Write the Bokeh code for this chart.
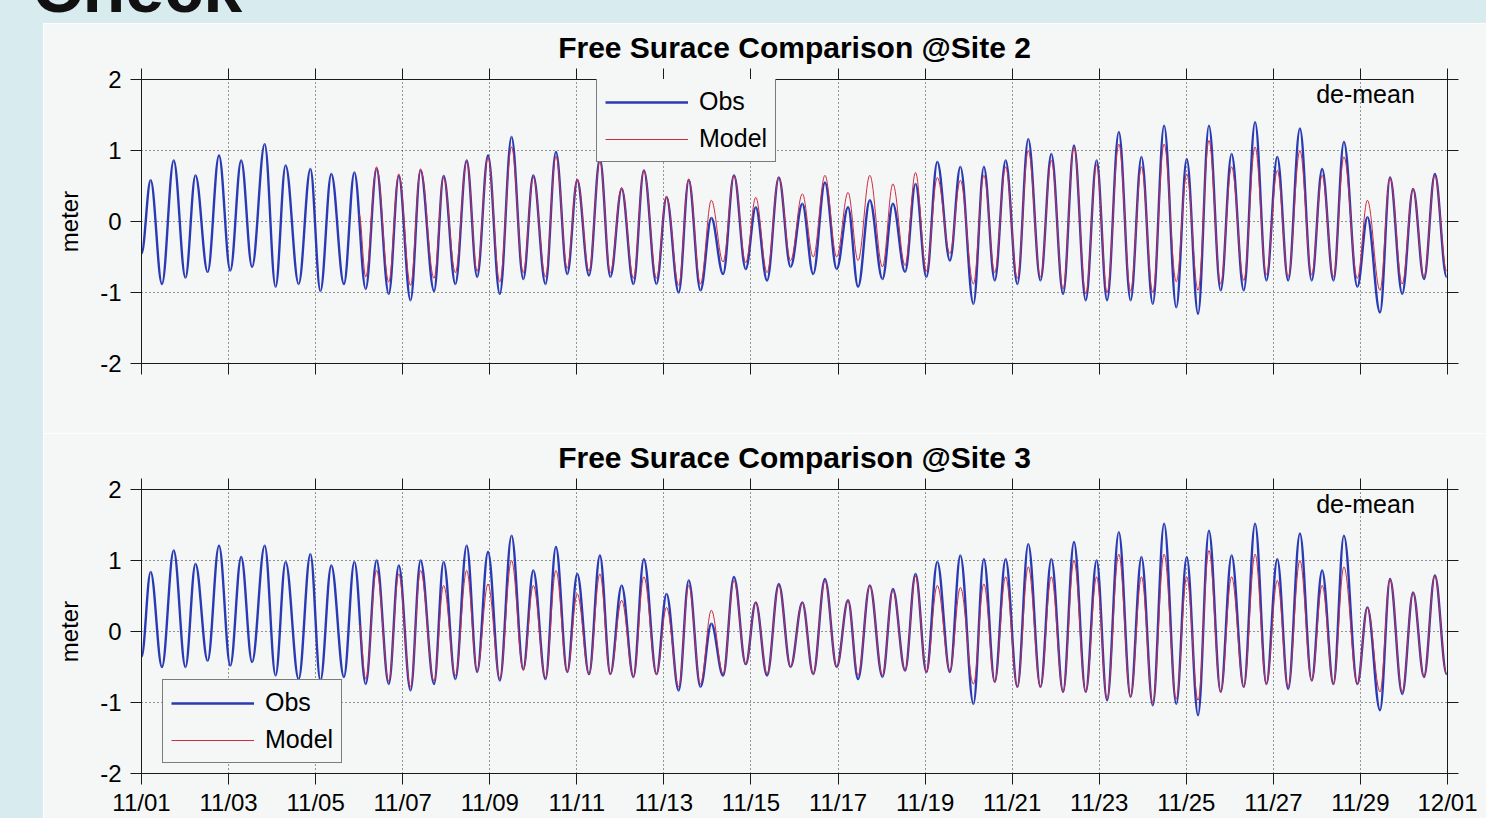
from bokeh.plotting import figure
from bokeh.models import Div, FixedTicker, LinearAxis, Label, Legend, LegendItem, Range1d
from bokeh.layouts import column, row
from bokeh.embed import file_html
from bokeh.resources import INLINE

# ---------------- data ----------------
# times of high / low water, days after 11/01 00:00 (shared by both sites)
t_ext = [0.00, 0.21, 0.47, 0.74, 1.01, 1.24, 1.52, 1.78, 2.04, 2.29,
         2.54, 2.83, 3.08, 3.31, 3.61, 3.88, 4.11, 4.36, 4.65, 4.89,
         5.15, 5.40, 5.68, 5.91, 6.18, 6.41, 6.72, 6.94, 7.21, 7.47,
         7.71, 7.96, 8.23, 8.50, 8.77, 9.00, 9.28, 9.52, 9.78, 10.01,
         10.28, 10.53, 10.77, 11.03, 11.30, 11.54, 11.83, 12.06, 12.34, 12.57,
         12.84, 13.09, 13.36, 13.61, 13.88, 14.11, 14.37, 14.64, 14.91, 15.18,
         15.43, 15.70, 15.97, 16.23, 16.46, 16.73, 17.02, 17.26, 17.54, 17.78,
         18.03, 18.28, 18.57, 18.81, 19.11, 19.35, 19.60, 19.85, 20.12, 20.37,
         20.65, 20.90, 21.17, 21.42, 21.69, 21.94, 22.18, 22.45, 22.72, 22.97,
         23.23, 23.49, 23.77, 24.01, 24.27, 24.52, 24.79, 25.04, 25.32, 25.58,
         25.84, 26.09, 26.34, 26.61, 26.88, 27.12, 27.38, 27.62, 27.93, 28.16,
         28.45, 28.68, 28.96, 29.21, 29.46, 29.71, 29.98]

model_start = 5.0
t_model = [model_start] + [t for t in t_ext if t > model_start]

site2_obs = [-0.45, 0.58, -0.88, 0.86, -0.79, 0.65, -0.71, 0.93, -0.69, 0.86,
             -0.64, 1.09, -0.92, 0.79, -0.88, 0.74, -0.98, 0.67, -0.88, 0.69,
             -0.95, 0.74, -1.02, 0.64, -1.11, 0.72, -0.98, 0.64, -0.88, 0.86,
             -0.78, 0.93, -1.02, 1.19, -0.81, 0.65, -0.88, 0.98, -0.74, 0.58,
             -0.76, 0.88, -0.78, 0.46, -0.88, 0.72, -0.88, 0.34, -1.00, 0.58,
             -0.97, 0.05, -0.74, 0.65, -0.67, 0.20, -0.83, 0.62, -0.64, 0.25,
             -0.74, 0.55, -0.67, 0.20, -0.92, 0.30, -0.81, 0.25, -0.71, 0.53,
             -0.78, 0.84, -0.55, 0.77, -1.16, 0.77, -0.83, 0.86, -0.88, 1.16,
             -0.83, 0.95, -1.02, 1.07, -1.11, 0.86, -1.11, 1.26, -1.11, 0.91,
             -1.16, 1.35, -1.21, 0.88, -1.30, 1.35, -0.97, 0.95, -0.97, 1.40,
             -0.83, 0.91, -0.83, 1.31, -0.83, 0.74, -0.83, 1.12, -0.92, 0.06,
             -1.28, 0.62, -1.02, 0.46, -0.81, 0.67, -0.78]

site2_model = [0.10,
               -0.78, 0.77, -0.85, 0.67, -0.90, 0.74, -0.80, 0.62, -0.72, 0.84,
               -0.70, 0.90, -0.85, 1.05, -0.72, 0.62, -0.78, 0.92, -0.66, 0.60,
               -0.70, 0.85, -0.72, 0.48, -0.80, 0.72, -0.80, 0.36, -0.90, 0.60,
               -0.88, 0.30, -0.57, 0.65, -0.58, 0.34, -0.72, 0.62, -0.55, 0.39,
               -0.50, 0.65, -0.50, 0.41, -0.55, 0.65, -0.64, 0.53, -0.62, 0.69,
               -0.70, 0.62, -0.45, 0.58, -0.88, 0.65, -0.72, 0.77, -0.80, 1.00,
               -0.78, 0.86, -0.95, 1.05, -1.02, 0.80, -1.00, 1.09, -0.98, 0.77,
               -1.00, 1.09, -0.85, 0.67, -0.97, 1.14, -0.88, 0.77, -0.83, 1.05,
               -0.75, 0.72, -0.78, 1.00, -0.75, 0.65, -0.78, 0.91, -0.80, 0.30,
               -0.97, 0.62, -0.88, 0.46, -0.78, 0.65, -0.70]

site3_obs = [-0.36, 0.84, -0.50, 1.14, -0.50, 0.95, -0.41, 1.21, -0.48, 1.05,
             -0.43, 1.21, -0.62, 0.98, -0.67, 1.09, -0.69, 0.93, -0.64, 0.98,
             -0.74, 1.00, -0.74, 0.93, -0.83, 1.00, -0.74, 0.98, -0.67, 1.21,
             -0.57, 1.12, -0.69, 1.35, -0.53, 0.86, -0.67, 1.19, -0.57, 0.81,
             -0.60, 1.07, -0.60, 0.65, -0.64, 1.02, -0.60, 0.53, -0.83, 0.72,
             -0.78, 0.11, -0.62, 0.77, -0.46, 0.41, -0.62, 0.67, -0.50, 0.41,
             -0.60, 0.74, -0.50, 0.44, -0.67, 0.65, -0.64, 0.60, -0.55, 0.81,
             -0.57, 0.98, -0.57, 1.07, -1.02, 1.02, -0.71, 1.02, -0.78, 1.23,
             -0.78, 1.02, -0.85, 1.26, -0.85, 1.00, -0.97, 1.40, -0.92, 1.05,
             -1.04, 1.52, -1.02, 1.05, -1.18, 1.42, -0.85, 1.07, -0.78, 1.52,
             -0.74, 1.02, -0.81, 1.38, -0.69, 0.86, -0.74, 1.35, -0.74, 0.34,
             -1.11, 0.74, -0.88, 0.55, -0.64, 0.79, -0.60]

site3_model = [0.10,
               -0.67, 0.86, -0.70, 0.81, -0.78, 0.86, -0.70, 0.65, -0.62, 0.86,
               -0.55, 0.67, -0.66, 1.00, -0.55, 0.65, -0.65, 0.86, -0.57, 0.53,
               -0.60, 0.81, -0.60, 0.44, -0.64, 0.77, -0.60, 0.34, -0.78, 0.65,
               -0.74, 0.30, -0.60, 0.72, -0.46, 0.41, -0.60, 0.65, -0.50, 0.41,
               -0.60, 0.72, -0.50, 0.44, -0.62, 0.65, -0.62, 0.58, -0.55, 0.78,
               -0.57, 0.65, -0.55, 0.62, -0.74, 0.67, -0.71, 0.77, -0.78, 0.91,
               -0.78, 0.77, -0.85, 1.00, -0.85, 0.77, -0.95, 1.09, -0.92, 0.77,
               -1.00, 1.09, -0.95, 0.77, -0.97, 1.14, -0.85, 0.77, -0.78, 1.09,
               -0.74, 0.72, -0.78, 1.00, -0.69, 0.65, -0.74, 0.91, -0.74, 0.34,
               -0.85, 0.74, -0.85, 0.55, -0.64, 0.79, -0.60]

x_ticks = [0, 2, 4, 6, 8, 10, 12, 14, 16, 18, 20, 22, 24, 26, 28, 30]
x_tick_labels = ["11/01", "11/03", "11/05", "11/07", "11/09", "11/11", "11/13", "11/15",
                 "11/17", "11/19", "11/21", "11/23", "11/25", "11/27", "11/29", "12/01"]
y_ticks = [-2, -1, 0, 1, 2]
y_tick_labels = ["-2", "-1", "0", "1", "2"]
y_grid = [-1, 0, 1]

titles = ["Free Surace Comparison @Site 2", "Free Surace Comparison @Site 3"]
series_names = ["Obs", "Model"]
note_text = "de-mean"
y_label = "meter"
slide_heading = "Check"

# ---------------- style ----------------
BG = "#d8ebef"
PANEL = "#f4f7f6"
FONT = "Liberation Sans"
OBS_COLOR = "#2a3ab4"
MODEL_COLOR = "#cc2d45"
INK = "#1a1a1a"
SMOOTH = 0.36   # bezier handle length, as a fraction of the gap between extrema


def style_axis(ax):
    ax.major_tick_in = 0
    ax.major_tick_out = 11
    ax.minor_tick_in = 0
    ax.minor_tick_out = 0
    ax.axis_line_color = INK
    ax.major_tick_line_color = INK
    ax.major_label_text_font = FONT
    ax.major_label_text_font_size = "24px"
    ax.major_label_text_color = "#000000"
    ax.major_label_standoff = 4


def smooth_curve(p, xs, ys, **kw):
    x0, y0, x1, y1 = xs[:-1], ys[:-1], xs[1:], ys[1:]
    cx0 = [a + SMOOTH * (b - a) for a, b in zip(x0, x1)]
    cx1 = [b - SMOOTH * (b - a) for a, b in zip(x0, x1)]
    return p.bezier(x0=x0, y0=y0, x1=x1, y1=y1,
                    cx0=cx0, cy0=y0, cx1=cx1, cy1=y1, **kw)


def make_panel(title, obs, model, legend_loc, show_xlabels, height, min_top, min_bottom):
    p = figure(width=1443, height=height,
               x_range=Range1d(0, 30), y_range=Range1d(-2, 2),
               output_backend="svg", toolbar_location=None,
               min_border_left=98, min_border_right=39,
               min_border_top=min_top, min_border_bottom=min_bottom,
               background_fill_color=PANEL, border_fill_color=PANEL,
               outline_line_color=INK)

    # bottom axis
    xa = p.xaxis[0]
    xa.ticker = FixedTicker(ticks=x_ticks)
    style_axis(xa)
    if show_xlabels:
        xa.major_label_overrides = {t: s for t, s in zip(x_ticks, x_tick_labels)}
    else:
        xa.major_label_overrides = {t: "" for t in x_ticks}

    # left axis
    ya = p.yaxis[0]
    ya.ticker = FixedTicker(ticks=y_ticks)
    style_axis(ya)
    ya.major_label_standoff = 9
    ya.major_label_overrides = {t: s for t, s in zip(y_ticks, y_tick_labels)}
    ya.axis_label = y_label
    ya.axis_label_text_font = FONT
    ya.axis_label_text_font_size = "24px"
    ya.axis_label_text_font_style = "normal"
    ya.axis_label_text_color = "#000000"
    ya.axis_label_standoff = 14

    # top and right axes: ticks only
    top = LinearAxis(ticker=FixedTicker(ticks=x_ticks))
    style_axis(top)
    top.major_label_overrides = {t: "" for t in x_ticks}
    top.major_label_standoff = 0
    p.add_layout(top, "above")
    right = LinearAxis(ticker=FixedTicker(ticks=y_ticks))
    style_axis(right)
    right.major_label_overrides = {t: "" for t in y_ticks}
    right.major_label_standoff = 0
    p.add_layout(right, "right")

    p.xgrid.ticker = FixedTicker(ticks=x_ticks)
    p.ygrid.ticker = FixedTicker(ticks=y_grid)
    for g in (p.xgrid, p.ygrid):
        g.grid_line_color = "#333333"
        g.grid_line_dash = "1 3"
        g.grid_line_width = 1

    p.title.text = title
    p.title.align = "center"
    p.title.offset = -8
    p.title.text_font = FONT
    p.title.text_font_size = "30px"
    p.title.text_font_style = "bold"
    p.title.text_color = "#000000"
    p.title.standoff = 9

    r_obs = smooth_curve(p, t_ext, obs, line_color=OBS_COLOR, line_width=2.4)
    r_mod = smooth_curve(p, t_model, model, line_color=MODEL_COLOR, line_width=1)

    leg = Legend(items=[LegendItem(label=series_names[0], renderers=[r_obs]),
                        LegendItem(label=series_names[1], renderers=[r_mod])],
                 location=legend_loc,
                 label_text_font=FONT, label_text_font_size="25px",
                 label_text_color="#000000",
                 glyph_width=83, glyph_height=26, label_height=26,
                 spacing=8, padding=8, margin=0, label_standoff=11,
                 border_line_color="#000000", border_line_width=1,
                 background_fill_color=PANEL, background_fill_alpha=1.0)
    p.add_layout(leg)

    p.add_layout(Label(x=1224, y=270, x_units="screen", y_units="screen",
                       text=note_text, text_align="center", text_baseline="middle",
                       text_font=FONT, text_font_size="25px", text_color="#000000"))
    return p


# panel 1 spans y 23..433, panel 2 spans y 433..818 of the page
p1 = make_panel(titles[0], site2_obs, site2_model, (455, 201), False, 410, 56, 70)
p2 = make_panel(titles[1], site3_obs, site3_model, (21, 10), True, 385, 56, 45)

heading = Div(text=(f"<div style=\"margin:-47px 0 0 32px;font:bold 70px/70px '{FONT}',Arial,sans-serif;"
                    f"color:#111;white-space:nowrap\">{slide_heading}</div>"),
              width=1486, height=23, margin=0,
              styles={"background-color": BG, "overflow": "hidden"})
left_strip = Div(text="", width=43, height=795, margin=0,
                 styles={"background-color": BG})

page = column(heading, row(left_strip, column(p1, p2, spacing=0), spacing=0), spacing=0)

open("out.html", "w").write(file_html(page, INLINE))
